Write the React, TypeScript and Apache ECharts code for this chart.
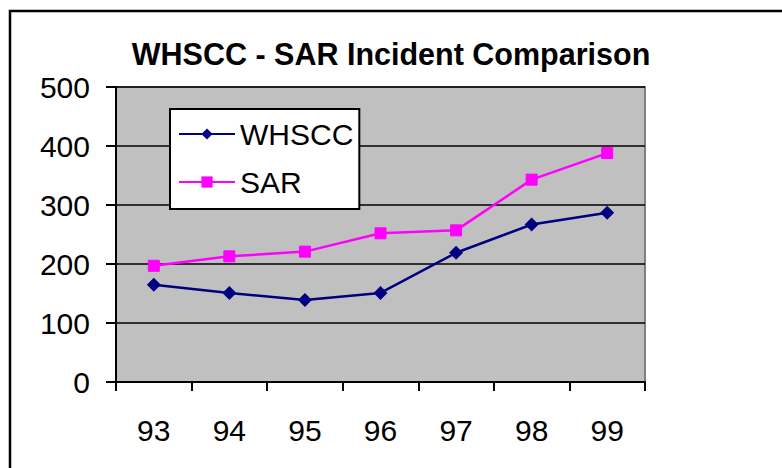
import React, { useEffect, useRef } from "react";
import * as echarts from "echarts";

const categories = ["93", "94", "95", "96", "97", "98", "99"];
const whsccValues = [165, 151, 139, 151, 219, 267, 287];
const sarValues = [197, 213, 221, 252, 257, 343, 388];
const yTicks = { min: 0, max: 500, interval: 100 };
const titleText = "WHSCC - SAR Incident Comparison";

export default function App() {
  const ref = useRef<HTMLDivElement>(null);
  useEffect(() => {
    if (!ref.current) return;
    const chart = echarts.init(ref.current, undefined, { renderer: "svg" });
    const font = "Arial, 'Liberation Sans', sans-serif";
    chart.setOption({
      animation: false,
      backgroundColor: "#ffffff",
      textStyle: { fontFamily: font },
      title: {
        text: titleText,
        left: "center",
        top: 33,
        textStyle: { fontSize: 30.5, fontWeight: "bold", color: "#000", fontFamily: font },
      },
      graphic: [
        {
          type: "rect",
          shape: { x: 10, y: 11, width: 800, height: 500 },
          style: { fill: "none", stroke: "#000", lineWidth: 2.5 },
          silent: true,
          z: 100,
        },
      ],
      legend: {
        orient: "vertical",
        left: 170,
        top: 109,
        backgroundColor: "#ffffff",
        borderColor: "#000",
        borderWidth: 2,
        padding: [10, 6, 12, 8],
        itemGap: 18,
        itemWidth: 56,
        itemHeight: 14,
        textStyle: { fontSize: 30, color: "#000", fontFamily: font, lineHeight: 28 },
        data: ["WHSCC", "SAR"],
      },
      grid: {
        left: 116,
        top: 87,
        right: 137,
        bottom: 86,
        show: true,
        backgroundColor: "#C0C0C0",
        borderColor: "#808080",
        borderWidth: 2,
      },
      xAxis: {
        type: "category",
        data: categories,
        boundaryGap: true,
        axisLine: { show: true, lineStyle: { color: "#000", width: 2 } },
        axisTick: { show: true, length: 9, lineStyle: { color: "#000", width: 2 } },
        axisLabel: { fontSize: 30, color: "#000", margin: 33, fontFamily: font },
      },
      yAxis: {
        type: "value",
        min: yTicks.min,
        max: yTicks.max,
        interval: yTicks.interval,
        axisLine: { show: true, lineStyle: { color: "#000", width: 2 } },
        axisTick: { show: true, length: 10, lineStyle: { color: "#000", width: 2 } },
        axisLabel: { fontSize: 30, color: "#000", margin: 26, fontFamily: font },
        splitLine: { show: true, lineStyle: { color: "#000", width: 1.5 } },
      },
      series: [
        {
          name: "WHSCC",
          type: "line",
          data: whsccValues,
          symbol: "diamond",
          symbolSize: 14,
          lineStyle: { color: "#000080", width: 2.5 },
          itemStyle: { color: "#000080" },
        },
        {
          name: "SAR",
          type: "line",
          data: sarValues,
          symbol: "rect",
          symbolSize: 11,
          lineStyle: { color: "#FF00FF", width: 2.5 },
          itemStyle: { color: "#FF00FF", borderColor: "#FF00FF" },
        },
      ],
    });
    return () => chart.dispose();
  }, []);
  return (
    <div
      ref={ref}
      style={{ position: "absolute", left: 0, top: 0, width: 782, height: 468 }}
    />
  );
}
